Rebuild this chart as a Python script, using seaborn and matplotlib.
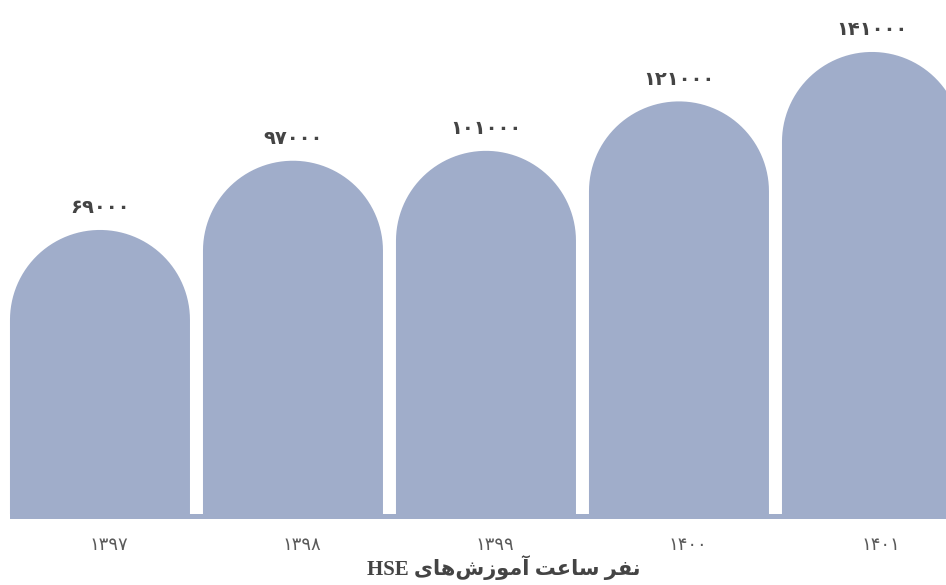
import numpy as np
import pandas as pd
import seaborn as sns
import matplotlib.pyplot as plt
from matplotlib.path import Path
from matplotlib.patches import PathPatch
from matplotlib.transforms import offset_copy

# داده‌ها
years = ["۱۳۹۷", "۱۳۹۸", "۱۳۹۹", "۱۴۰۰", "۱۴۰۱"]
hours = [69000, 97000, 101000, 121000, 141000]
value_labels = ["۶۹۰۰۰", "۹۷۰۰۰", "۱۰۱۰۰۰", "۱۲۱۰۰۰", "۱۴۱۰۰۰"]

# "نفر ساعت آموزش‌های HSE" - visual order, presentation forms (matplotlib has no bidi)
title = ("HSE " + "\uFBFC\uFE8E\uFEEB\uFEB5\uFEAF\uFEEE\uFEE3\uFE81" + " "
         + "\uFE96\uFECB\uFE8E\uFEB3" + " " + "\uFEAE\uFED4\uFEE7")

BAR_COLOR = "#A0ADCA"
TEXT_COLOR = "#444444"

sns.set_theme(style="white")
plt.rcParams['font.family'] = ['DejaVu Sans']

df = pd.DataFrame({"year": years, "hours": hours})

fig = plt.figure(figsize=(9.46, 5.85), dpi=100)
ax = fig.add_axes([0, 1 - 519 / 585, 1, 519 / 585])

sns.barplot(data=df, x="year", y="hours", color=BAR_COLOR, width=180 / 193,
            saturation=1, ax=ax)

floor = -45900          # bars start here (axis floor)
units_per_px = 404.5
ax.set_xlim(-0.518, -0.518 + 946 / 193)
ax.set_ylim(floor - 5 * units_per_px, floor + 514 * units_per_px)

# replace flat bars with round-topped ones
bars = list(ax.patches)
for p in bars:
    x0 = p.get_x()
    w = p.get_width()
    top = p.get_y() + p.get_height()
    rx = w / 2
    ry = (w * 193 / 2) * units_per_px   # semicircle in pixels
    cx = x0 + rx
    t = np.linspace(np.pi, 0, 60)
    arc = np.column_stack([cx + rx * np.cos(t), top - ry + ry * np.sin(t)])
    verts = np.vstack([[x0, floor], arc, [x0 + w, floor], [x0, floor]])
    codes = [Path.MOVETO] + [Path.LINETO] * (len(verts) - 2) + [Path.CLOSEPOLY]
    ax.add_patch(PathPatch(Path(verts, codes), facecolor=BAR_COLOR,
                           edgecolor="none", zorder=2))
    p.set_visible(False)

# base strip under the bars
ax.axhspan(floor - 5 * units_per_px, floor, xmin=10 / 946, xmax=1,
           color=BAR_COLOR, zorder=2, lw=0)

for p, lab in zip(bars, value_labels):
    ax.annotate(lab, (p.get_x() + p.get_width() / 2, p.get_y() + p.get_height()),
                xytext=(0, 9), textcoords="offset points", ha="center",
                va="bottom", fontsize=14, fontweight="bold", color=TEXT_COLOR)

ax.set_yticks([])
ax.set_xlabel("")
ax.set_ylabel("")
ax.tick_params(axis="x", length=0, pad=12, labelsize=13, labelcolor="#5a5a5a")
for lab in ax.get_xticklabels():
    lab.set_transform(offset_copy(lab.get_transform(), fig=fig, x=9, y=0, units="dots"))
sns.despine(ax=ax, left=True, bottom=True)

fig.text(0.533, 1 - 568 / 585, title, ha="center", va="center", fontsize=15,
         fontweight="bold", color=TEXT_COLOR,
         family=['Liberation Serif', 'DejaVu Sans'])

fig.savefig("out.png", dpi=100)
